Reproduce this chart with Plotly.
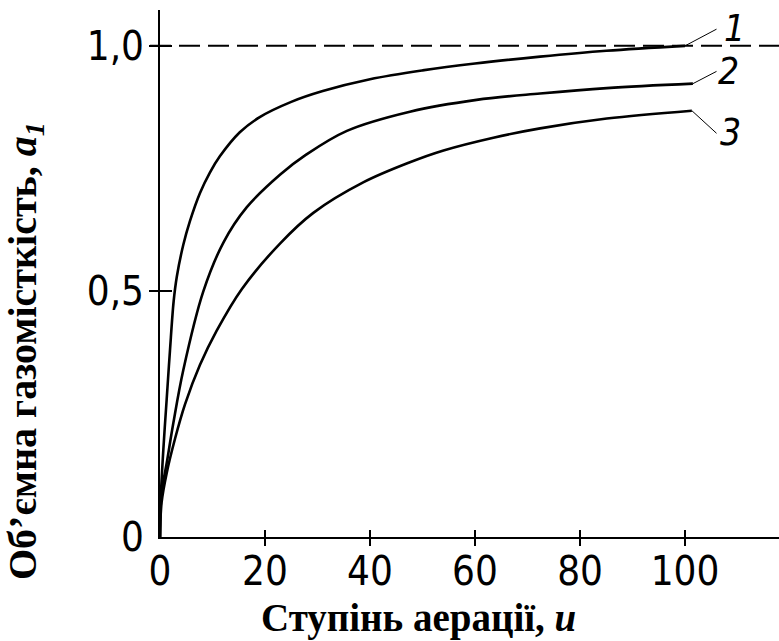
import plotly.graph_objects as go

# ---- data ----
u1 = [0, 0.13, 0.63, 1.27, 1.9, 2.6, 3.2, 4.44, 5.7, 7.6, 9.5, 11.4, 15.2, 19.0, 25.0, 31.0, 40.0, 50.0, 60.0, 72.4, 85.0, 100.0]
a1 = [0, 0.075, 0.177, 0.28, 0.38, 0.48, 0.53, 0.595, 0.643, 0.70, 0.742, 0.775, 0.824, 0.855, 0.886, 0.908, 0.932, 0.950, 0.964, 0.978, 0.990, 1.0]

u2 = [0, 0.3, 1.27, 2.54, 4.44, 8.25, 12.1, 16.5, 22.9, 27.9, 35.6, 47.6, 60.3, 72.4, 85.1, 101.5]
a2 = [0, 0.09, 0.15, 0.232, 0.34, 0.50, 0.60, 0.671, 0.738, 0.779, 0.827, 0.866, 0.890, 0.903, 0.914, 0.923]

u3 = [0, 0.3, 1.27, 2.86, 4.76, 7.6, 10.8, 15.6, 22.9, 29.2, 38.7, 47.6, 54.0, 63.5, 72.4, 85.1, 101.3]
a3 = [0, 0.07, 0.13, 0.20, 0.27, 0.35, 0.42, 0.505, 0.598, 0.66, 0.722, 0.763, 0.787, 0.813, 0.832, 0.852, 0.868]

x_ticks = [0, 20, 40, 60, 80, 100]
x_tick_text = ["0", "20", "40", "60", "80", "100"]
y_ticks = [0, 0.5, 1.0]
y_tick_text = ["0", "0,5", "1,0"]
curve_labels = ["1", "2", "3"]
limit_value = 1.0

x_title = "<b>Ступінь аерації, <i>u</i></b>"
y_title = "<b>Об’ємна газомісткість, <i>a</i><sub><i>1</i></sub></b>"

# ---- layout constants ----
W, H = 779, 641
L, R, T, B = 160, 0, 10, 104
XMAX, YMAX = 117.9, 1.073
PW, PH = W - L - R, H - T - B

tick_font = dict(family="DejaVu Sans Condensed, DejaVu Sans, sans-serif", size=40, color="black")
title_font = dict(family="Liberation Serif, Times New Roman, serif", size=40, color="black")
xtitle_font = dict(family="Liberation Serif, Times New Roman, serif", size=39, color="black")
label_font = dict(family="DejaVu Sans Condensed, DejaVu Sans, sans-serif", size=37, color="black")

fig = go.Figure()
for xs, ys in [(u1, a1), (u2, a2), (u3, a3)]:
    fig.add_trace(go.Scatter(x=xs, y=ys, mode="lines",
                             line=dict(color="black", width=2.6, shape="spline", smoothing=1.0),
                             hoverinfo="skip", showlegend=False))
# empty traces so overlay axes (tick marks) are drawn
fig.add_trace(go.Scatter(x=[None], y=[None], xaxis="x2", yaxis="y2", showlegend=False, hoverinfo="skip"))
fig.add_trace(go.Scatter(x=[None], y=[None], xaxis="x3", yaxis="y3", showlegend=False, hoverinfo="skip"))

tv_x = [v for v in x_ticks if v != 0]
tv_y = [v for v in y_ticks if v != 0]
common = dict(showgrid=False, zeroline=False)

fig.update_layout(
    width=W, height=H,
    margin=dict(l=L, r=R, t=T, b=B, pad=0),
    paper_bgcolor="white", plot_bgcolor="white",
    showlegend=False,
    xaxis=dict(range=[0, XMAX], showline=True, linecolor="black", linewidth=2,
               ticks="", tickvals=x_ticks, ticktext=x_tick_text, tickfont=tick_font,
               ticklabelstandoff=-2, **common),
    yaxis=dict(range=[0, YMAX], showline=True, linecolor="black", linewidth=2,
               ticks="", tickvals=y_ticks, ticktext=y_tick_text, tickfont=tick_font,
               ticklabelstandoff=6, **common),
    xaxis2=dict(overlaying="x", anchor="y2", range=[0, XMAX], ticks="outside", ticklen=8,
                tickwidth=2, tickcolor="black", tickvals=tv_x, showticklabels=False, showline=False, **common),
    yaxis2=dict(overlaying="y", anchor="x2", range=[0, YMAX], ticks="outside", ticklen=10,
                tickwidth=2, tickcolor="black", tickvals=tv_y, showticklabels=False, showline=False, **common),
    xaxis3=dict(overlaying="x", anchor="y3", range=[0, XMAX], ticks="inside", ticklen=7,
                tickwidth=2, tickcolor="black", tickvals=tv_x, showticklabels=False, showline=False, **common),
    yaxis3=dict(overlaying="y", anchor="x3", range=[0, YMAX], ticks="inside", ticklen=12,
                tickwidth=2, tickcolor="black", tickvals=tv_y, showticklabels=False, showline=False, **common),
)

# dashed limit line at a1 = 1
fig.add_shape(type="line", xref="paper", yref="y", x0=-10 / PW, x1=1, y0=limit_value, y1=limit_value,
              line=dict(color="black", width=2, dash="21px,8px"))

# leader lines from curve ends to labels
ends = [(u1[-1], a1[-1]), (u2[-1], a2[-1]), (u3[-1], a3[-1])]
leader_tips = [(106, 1.034), (106, 0.948), (106, 0.822)]
label_pos = [(109.4, 1.036), (108.3, 0.948), (108.6, 0.824)]
for (ex, ey), (lx, ly) in zip(ends, leader_tips):
    fig.add_shape(type="line", xref="x", yref="y", x0=ex, y0=ey, x1=lx, y1=ly,
                  line=dict(color="black", width=1))
for txt, (lx, ly) in zip(curve_labels, label_pos):
    fig.add_annotation(x=lx, y=ly, xref="x", yref="y", text=f"<i>{txt}</i>", showarrow=False,
                       font=label_font, xanchor="center", yanchor="middle")

# axis titles
fig.add_annotation(x=(418 - L) / PW, y=(T + PH - 618) / PH, xref="paper", yref="paper",
                   text=x_title, showarrow=False, font=xtitle_font, xanchor="center", yanchor="middle")
fig.add_annotation(x=(25 - L) / PW, y=(T + PH - 351) / PH, xref="paper", yref="paper",
                   text=y_title, showarrow=False, font=title_font, textangle=-90,
                   xanchor="center", yanchor="middle")

fig.write_html("out.html")
